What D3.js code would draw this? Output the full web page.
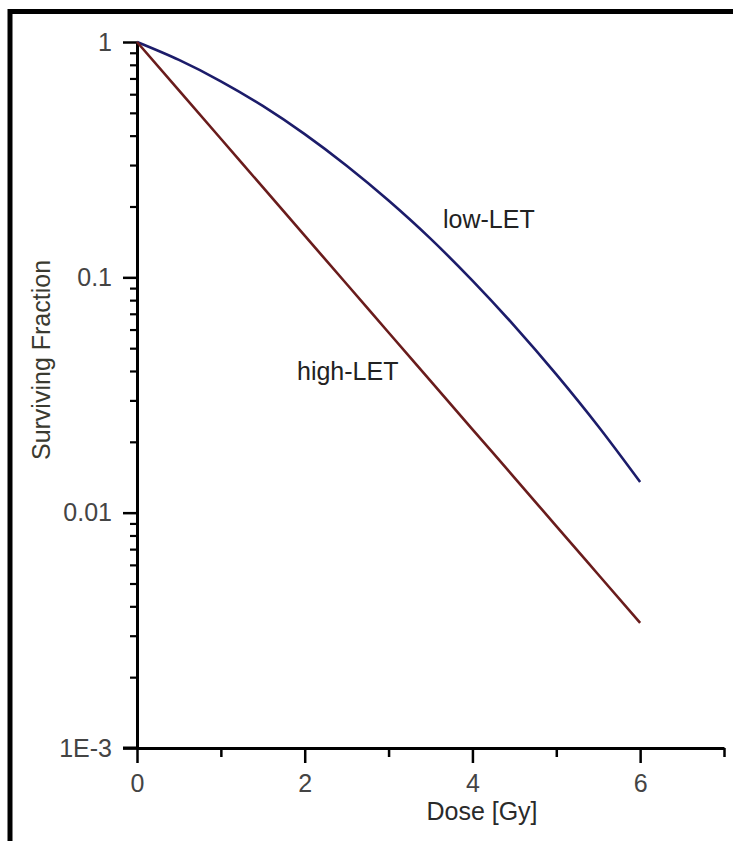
<!DOCTYPE html>
<html>
<head>
<meta charset="utf-8">
<script src="https://cdn.jsdelivr.net/npm/d3@7"></script>
<style>
  html, body { margin: 0; padding: 0; background: #fff; }
  svg { display: block; }
  text { font-family: "Liberation Sans", Arial, sans-serif; }
</style>
</head>
<body>
<svg id="chart" width="733" height="841"></svg>
<script>
// Dose points (Gy)
const doses = [0, 0.5, 1, 1.5, 2, 2.5, 3, 3.5, 4, 4.5, 5, 5.5, 6];
// Surviving fraction, sparsely ionizing radiation (shouldered curve)
const lowLET = [1, 0.839, 0.681, 0.535, 0.406, 0.298, 0.212, 0.146, 0.0968, 0.0622, 0.0387, 0.0233, 0.0135];
// Surviving fraction, densely ionizing radiation (exponential)
const highLET = [1, 0.623, 0.388, 0.2415, 0.1504, 0.0937, 0.0583, 0.0363, 0.0226, 0.0141, 0.00877, 0.00546, 0.0034];

const xMajorTicks = [0, 2, 4, 6];
const xMinorTicks = [1, 3, 5, 7];
const yMajorTicks = [1, 0.1, 0.01, 0.001];
const yTickLabels = ["1", "0.1", "0.01", "1E-3"];
const seriesNames = ["low-LET", "high-LET"];

const svg = d3.select("#chart");

// outer frame (top and left edges)
svg.append("line").attr("x1", 10).attr("x2", 733).attr("y1", 11.5).attr("y2", 11.5)
  .attr("stroke", "#000").attr("stroke-width", 5);
svg.append("line").attr("x1", 10).attr("x2", 10).attr("y1", 9).attr("y2", 841)
  .attr("stroke", "#000").attr("stroke-width", 5);

const x = d3.scaleLinear().domain([0, 7]).range([137, 724]);
const y = d3.scaleLog().domain([0.001, 1]).range([748, 42]);

// minor log ticks 2..9 within each decade
const yMinorTicks = [];
[0.001, 0.01, 0.1].forEach(base => {
  for (let k = 2; k <= 9; k++) yMinorTicks.push(+(base * k).toPrecision(3));
});

const axisColor = "#000";
const labelColor = "#444";

// y axis
const gy = svg.append("g").attr("transform", `translate(${x(0)},0)`);
gy.call(d3.axisLeft(y).tickValues(yMinorTicks).tickSize(7).tickSizeOuter(0).tickFormat(""));
gy.call(g => g.selectAll(".tick line").attr("stroke-width", 2.2));
const gyMajor = svg.append("g").attr("transform", `translate(${x(0)},0)`);
gyMajor.call(d3.axisLeft(y).tickValues(yMajorTicks).tickSize(14).tickSizeOuter(0)
  .tickFormat((d, i) => yTickLabels[i]).tickPadding(11));
gyMajor.select(".domain").remove();
gyMajor.selectAll(".tick line").attr("stroke-width", 2.5);
gyMajor.selectAll(".tick text").attr("font-size", 25).attr("fill", labelColor)
  .attr("font-family", "'Liberation Sans', Arial, sans-serif").attr("dy", "0.33em");
gy.select(".domain").attr("stroke-width", 3);

// x axis
const gx = svg.append("g").attr("transform", `translate(0,${y(0.001)})`);
gx.call(d3.axisBottom(x).tickValues(xMinorTicks).tickSize(9).tickSizeOuter(0).tickFormat(""));
gx.selectAll(".tick line").attr("stroke-width", 2.5);
gx.select(".domain").attr("stroke-width", 3);
const gxMajor = svg.append("g").attr("transform", `translate(0,${y(0.001)})`);
gxMajor.call(d3.axisBottom(x).tickValues(xMajorTicks).tickSize(15).tickSizeOuter(0)
  .tickFormat(d3.format("d")));
gxMajor.select(".domain").remove();
gxMajor.selectAll(".tick line").attr("stroke-width", 2.5);
gxMajor.selectAll(".tick text").attr("font-size", 25).attr("fill", labelColor)
  .attr("font-family", "'Liberation Sans', Arial, sans-serif")
  .attr("y", 44).attr("dy", 0);
svg.selectAll(".domain").attr("stroke", axisColor);
svg.selectAll(".tick line").attr("stroke", axisColor);

// extend x axis leftwards to meet the lowest y tick
svg.append("line").attr("x1", x(0) - 14).attr("x2", x(0)).attr("y1", y(0.001)).attr("y2", y(0.001))
  .attr("stroke", axisColor).attr("stroke-width", 3);

// axis titles
svg.append("text").attr("x", 482).attr("y", 820).attr("text-anchor", "middle")
  .attr("font-size", 25).attr("fill", "#2a2a2a").text("Dose [Gy]");
svg.append("text").attr("transform", "translate(50,360) rotate(-90)").attr("text-anchor", "middle")
  .attr("font-size", 25).attr("fill", "#3a3a30").text("Surviving Fraction");

// curves
const line = d3.line().x(d => x(d[0])).y(d => y(d[1])).curve(d3.curveMonotoneX);
const series = [
  { name: seriesNames[0], values: lowLET, color: "#1c1c6a" },
  { name: seriesNames[1], values: highLET, color: "#6a1c1c" }
];
svg.append("g").selectAll("path").data(series).join("path")
  .attr("d", s => line(doses.map((d, i) => [d, s.values[i]])))
  .attr("fill", "none").attr("stroke", s => s.color).attr("stroke-width", 2.6);

// curve labels
svg.append("text").attr("x", 443).attr("y", 228).attr("font-size", 25).attr("fill", "#222")
  .text(seriesNames[0]);
svg.append("text").attr("x", 297).attr("y", 380).attr("font-size", 25).attr("fill", "#222")
  .text(seriesNames[1]);
</script>
</body>
</html>
